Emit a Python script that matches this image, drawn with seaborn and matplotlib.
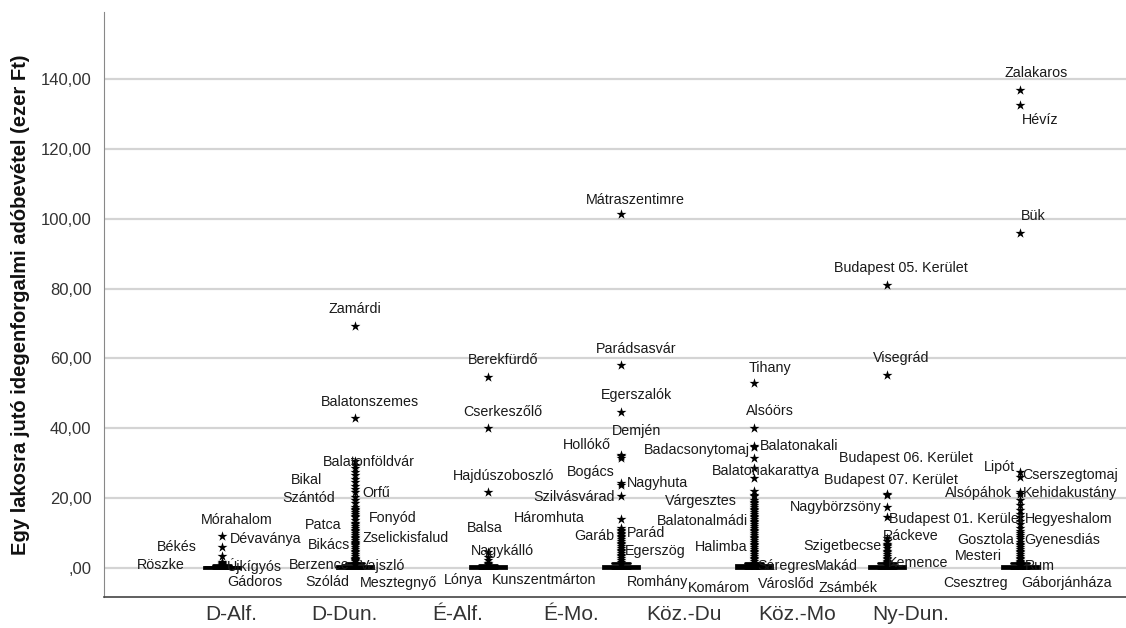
import numpy as np
import pandas as pd
import matplotlib
matplotlib.use("Agg")
import matplotlib.pyplot as plt
from matplotlib.ticker import FuncFormatter
import seaborn as sns

# ---------------- data ----------------
REGIONS = ["D-Alf.", "D-Dun.", "É-Alf.", "É-Mo.", "Köz.-Du", "Köz.-Mo", "Ny-Dun."]
Y_LABEL = "Egy lakosra jutó idegenforgalmi adóbevétel (ezer Ft)"

# bulk of settlements (inside whiskers) per region
BULK_D_ALF = [0.0, 0.0, 0.0, 0.0, 0.1, 0.2, 0.3, 0.4, 0.6, 0.9]
BULK_D_DUN = [0.0, 0.0, 0.0, 0.1, 0.2, 0.3, 0.5, 0.7, 1.0, 1.3]
BULK_E_ALF = [0.0, 0.0, 0.0, 0.0, 0.1, 0.2, 0.3, 0.5, 0.7, 1.0]
BULK_E_MO = [0.0, 0.0, 0.0, 0.1, 0.2, 0.3, 0.5, 0.7, 1.0, 1.3]
BULK_KOZ_DU = [0.0, 0.0, 0.0, 0.1, 0.2, 0.4, 0.6, 0.8, 1.1, 1.4]
BULK_KOZ_MO = [0.0, 0.0, 0.0, 0.1, 0.2, 0.3, 0.5, 0.7, 1.0, 1.3]
BULK_NY_DUN = [0.0, 0.0, 0.0, 0.1, 0.2, 0.3, 0.5, 0.7, 1.0, 1.3]

# unlabeled extreme values per region
EXT_D_ALF = [1.8]
EXT_D_DUN = [29.5, 28.5, 27.5, 25.5, 24.5, 23.5, 22.5, 19.5, 18.5, 17.5, 17.0, 16.5,
             15.5, 15.0, 14.5, 13.0, 12.5, 12.0, 11.5, 11.0, 10.5, 10.0, 9.0, 8.5,
             8.0, 7.5, 7.0, 6.5, 6.0, 5.5, 5.0, 4.5, 4.0, 3.5, 3.0, 2.7, 2.5]
EXT_E_ALF = [2.3]
EXT_E_MO = [32.0, 11.4, 10.5, 10.0, 9.3, 8.8, 8.3, 7.8, 7.3, 6.8, 6.3, 5.3, 4.8,
            4.3, 3.8, 3.3, 2.8, 2.3, 1.8]
EXT_KOZ_DU = [31.5, 25.8, 22.0, 21.0, 20.5, 19.5, 19.0, 18.5, 17.5, 17.0, 16.5, 16.0,
              15.5, 15.0, 14.5, 14.0, 13.5, 12.5, 12.0, 11.5, 11.0, 10.5, 10.0, 9.5,
              9.0, 8.5, 8.0, 7.5, 7.0, 6.0, 5.5, 5.0, 4.5, 4.0, 3.5, 3.0, 2.5, 2.0]
EXT_KOZ_MO = [8.5, 7.8, 7.0, 6.2, 5.0, 4.5, 4.0, 3.5, 3.0, 2.5, 2.0, 1.5]
EXT_NY_DUN = [19.5, 18.0, 16.5, 15.5, 13.5, 12.5, 11.5, 10.5, 10.0, 9.5, 7.5, 7.0,
              6.5, 6.0, 5.5, 5.0, 4.0, 3.5, 3.0, 2.5, 2.0, 1.8]

# labeled extreme values per region
NAMES_D_ALF = ["Mórahalom", "Dévaványa", "Békés", "Röszke", "Újkígyós", "Gádoros"]
VALS_D_ALF = [9.2, 6.1, 3.4, 1.5, 1.2, 0.9]
NAMES_D_DUN = ["Zamárdi", "Balatonszemes", "Balatonföldvár", "Bikal", "Szántód", "Orfű",
               "Fonyód", "Patca", "Zselickisfalud", "Bikács", "Berzence", "Vajszló",
               "Szólád", "Mesztegnyő"]
VALS_D_DUN = [69.3, 42.9, 30.6, 26.6, 20.3, 21.8, 16.0, 13.7, 9.4, 7.2, 2.3, 2.0, 1.4, 1.1]
NAMES_E_ALF = ["Berekfürdő", "Cserkeszőlő", "Hajdúszoboszló", "Balsa", "Nagykálló",
               "Lónya", "Kunszentmárton"]
VALS_E_ALF = [54.6, 40.2, 21.8, 4.5, 3.2, 1.5, 1.2]
NAMES_E_MO = ["Mátraszentimre", "Parádsasvár", "Egerszalók", "Demjén", "Hollókő",
              "Bogács", "Nagyhuta", "Szilvásvárad", "Háromhuta", "Parád", "Garáb",
              "Egerszög", "Romhány"]
VALS_E_MO = [101.5, 58.1, 44.7, 32.5, 31.5, 24.3, 23.8, 20.6, 13.9, 10.9, 9.7, 5.7, 1.1]
NAMES_KOZ_DU = ["Tihany", "Alsóörs", "Badacsonytomaj", "Balatonakali", "Balatonakarattya",
                "Várgesztes", "Balatonalmádi", "Halimba", "Sáregres", "Komárom", "Városlőd"]
VALS_KOZ_DU = [52.9, 40.0, 34.6, 34.9, 28.5, 18.0, 13.2, 6.6, 1.4, 0.9, 0.8]
NAMES_KOZ_MO = ["Budapest 05. Kerület", "Visegrád", "Budapest 06. Kerület",
                "Budapest 07. Kerület", "Nagybörzsöny", "Budapest 01. Kerület",
                "Ráckeve", "Szigetbecse", "Makád", "Kemence", "Zsámbék"]
VALS_KOZ_MO = [81.0, 55.3, 21.2, 20.9, 17.5, 14.7, 6.6, 5.7, 1.1, 1.7, 0.9]
NAMES_NY_DUN = ["Zalakaros", "Hévíz", "Bük", "Lipót", "Cserszegtomaj", "Alsópáhok",
                "Kehidakustány", "Hegyeshalom", "Gosztola", "Gyenesdiás", "Mesteri",
                "Rum", "Csesztreg", "Gáborjánháza"]
VALS_NY_DUN = [136.8, 132.6, 95.8, 27.5, 26.2, 21.8, 21.2, 14.6, 8.9, 8.3, 4.5, 1.4, 0.9, 0.8]

BULK = [BULK_D_ALF, BULK_D_DUN, BULK_E_ALF, BULK_E_MO, BULK_KOZ_DU, BULK_KOZ_MO, BULK_NY_DUN]
EXT = [EXT_D_ALF, EXT_D_DUN, EXT_E_ALF, EXT_E_MO, EXT_KOZ_DU, EXT_KOZ_MO, EXT_NY_DUN]
NAMES = [NAMES_D_ALF, NAMES_D_DUN, NAMES_E_ALF, NAMES_E_MO, NAMES_KOZ_DU, NAMES_KOZ_MO, NAMES_NY_DUN]
VALS = [VALS_D_ALF, VALS_D_DUN, VALS_E_ALF, VALS_E_MO, VALS_KOZ_DU, VALS_KOZ_MO, VALS_NY_DUN]

# ---------------- label placement (styling: anchor, dx px, dy px down) ----------------
LABEL_STYLE = {
    "Mórahalom": ("center", 15, -16), "Dévaványa": ("left", 8, -8), "Békés": ("right", -25, -9),
    "Röszke": ("right", -37, 2), "Újkígyós": ("left", 5, 2), "Gádoros": ("center", 33, 17),
    "Zamárdi": ("center", 0, -17), "Balatonszemes": ("center", 15, -16),
    "Balatonföldvár": ("left", -32, 1), "Bikal": ("right", -33, 5), "Szántód": ("right", -20, 1),
    "Orfű": ("left", 7, 1), "Fonyód": ("left", 14, 6), "Patca": ("right", -13, 5),
    "Zselickisfalud": ("left", 8, 3), "Bikács": ("right", -5, 2), "Berzence": ("right", -5, 5),
    "Vajszló": ("left", 5, 5), "Szólád": ("center", -28, 19), "Mesztegnyő": ("left", 5, 19),
    "Berekfürdő": ("center", 15, -17), "Cserkeszőlő": ("center", 15, -16),
    "Hajdúszoboszló": ("center", 16, -16), "Balsa": ("center", -3, -24),
    "Nagykálló": ("center", 15, -6), "Lónya": ("right", -5, 17), "Kunszentmárton": ("left", 4, 16),
    "Mátraszentimre": ("center", 15, -14), "Parádsasvár": ("center", 15, -16),
    "Egerszalók": ("center", 16, -17), "Demjén": ("center", 16, -24), "Hollókő": ("right", -10, -13),
    "Bogács": ("right", -6, -11), "Nagyhuta": ("left", 6, -2), "Szilvásvárad": ("right", -6, 1),
    "Háromhuta": ("right", -36, -1), "Parád": ("left", 6, 3), "Garáb": ("right", -6, 2),
    "Egerszög": ("left", 4, 3), "Romhány": ("left", 6, 18),
    "Tihany": ("center", 16, -15), "Alsóörs": ("center", 16, -17),
    "Badacsonytomaj": ("right", -4, 3), "Balatonakali": ("left", 6, 0),
    "Balatonakarattya": ("left", -42, 3), "Várgesztes": ("right", -17, -4),
    "Balatonalmádi": ("right", -6, -1), "Halimba": ("right", -6, 2), "Sáregres": ("left", 4, 3),
    "Komárom": ("right", -4, 23), "Városlőd": ("left", 4, 19),
    "Budapest 05. Kerület": ("center", 14, -17), "Visegrád": ("center", 15, -17),
    "Budapest 06. Kerület": ("center", 19, -36), "Budapest 07. Kerület": ("center", 4, -15),
    "Nagybörzsöny": ("right", -5, 0), "Budapest 01. Kerület": ("left", 2, 2),
    "Ráckeve": ("left", -4, -9), "Szigetbecse": ("right", -5, -2), "Makád": ("right", -29, 2),
    "Kemence": ("left", 1, 1), "Zsámbék": ("center", -39, 23),
    "Zalakaros": ("center", 16, -17), "Hévíz": ("left", 2, 15), "Bük": ("center", 14, -17),
    "Lipót": ("right", -5, -5), "Cserszegtomaj": ("left", 3, -2), "Alsópáhok": ("right", -8, 1),
    "Kehidakustány": ("left", 3, -1), "Hegyeshalom": ("left", 5, 2), "Gosztola": ("right", -6, 3),
    "Gyenesdiás": ("left", 5, 1), "Mesteri": ("right", -18, 4), "Rum": ("left", 5, 3),
    "Csesztreg": ("right", -12, 18), "Gáborjánháza": ("left", 2, 18),
}

# ---------------- frames ----------------
bulk_df = pd.DataFrame(
    [(r, v) for r, vals in zip(REGIONS, BULK) for v in vals], columns=["region", "value"])
ext_df = pd.DataFrame(
    [(r, v) for r, vals in zip(REGIONS, EXT) for v in vals] +
    [(r, v) for r, vals in zip(REGIONS, VALS) for v in vals], columns=["region", "value"])

# ---------------- plot ----------------
sns.set_style("white")
plt.rcParams["font.family"] = ["Liberation Sans", "DejaVu Sans"]

fig = plt.figure(figsize=(11.26, 6.28), dpi=100)
ax = fig.add_axes([104 / 1126, 31 / 628, 1 - 104 / 1126, 585 / 628])

sns.boxplot(data=bulk_df, x="region", y="value", order=REGIONS, width=0.27,
            whis=(0, 100), showfliers=False, color="black", linewidth=2.0, ax=ax)
sns.stripplot(data=ext_df, x="region", y="value", order=REGIONS, jitter=False,
              marker="*", color="black", size=7.5, linewidth=0, ax=ax, zorder=4)

for i, (names, vals) in enumerate(zip(NAMES, VALS)):
    for name, val in zip(names, vals):
        ha, dx, dy = LABEL_STYLE[name]
        ax.annotate(name, xy=(i, val), xytext=(dx, -dy), textcoords="offset pixels",
                    ha=ha, va="center", fontsize=10.3, color="#1a1a1a", zorder=5)

ax.set_ylim(-8.3, 159.2)
ax.set_xlim(-0.887, 6.80)
ax.set_yticks([0, 20, 40, 60, 80, 100, 120, 140])
ax.yaxis.set_major_formatter(FuncFormatter(
    lambda v, p: ",00" if abs(v) < 1e-9 else f"{v:.2f}".replace(".", ",")))
ax.yaxis.grid(True, color="#d4d4d4", linewidth=1.6)
ax.set_axisbelow(True)

tick_pos = [0.068 + 0.852 * i for i in range(len(REGIONS))]
ax.set_xticks(tick_pos)
ax.set_xticklabels(REGIONS)
ax.tick_params(axis="x", length=0, pad=6, labelsize=15, colors="#333333")
ax.tick_params(axis="y", length=4, width=1, color="#999999", pad=5, labelsize=12)
for t in ax.get_yticklabels():
    t.set_color("#333333")

ax.set_xlabel("")
ax.set_ylabel(Y_LABEL, fontsize=14.5, fontweight="bold", color="#111111", labelpad=8)

sns.despine(ax=ax, top=True, right=True)
ax.spines["left"].set_color("#888888")
ax.spines["bottom"].set_color("#444444")
ax.spines["bottom"].set_linewidth(1.2)

fig.savefig("out.png", dpi=100)
